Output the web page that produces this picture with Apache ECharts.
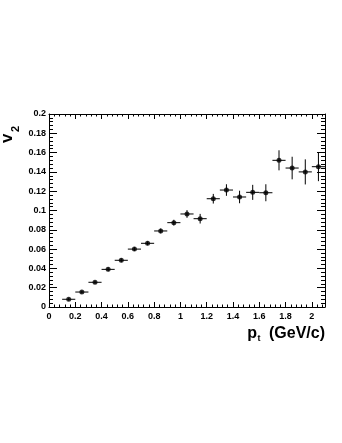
<!DOCTYPE html>
<html>
<head>
<meta charset="utf-8">
<script src="https://cdn.jsdelivr.net/npm/echarts@6/dist/echarts.min.js"></script>
<style>
  html, body { margin: 0; padding: 0; background: #fff; }
  #chart { width: 342px; height: 443px; }
</style>
</head>
<body>
<div id="chart"></div>
<script>
// pt bin centres (GeV/c), half bin width 0.05
var ptBins = [0.15, 0.25, 0.35, 0.45, 0.55, 0.65, 0.75, 0.85, 0.95, 1.05,
              1.15, 1.25, 1.35, 1.45, 1.55, 1.65, 1.75, 1.85, 1.95, 2.05];
var ptHalfWidth = [0.05, 0.05, 0.05, 0.05, 0.05, 0.05, 0.05, 0.05, 0.05, 0.05,
                   0.05, 0.05, 0.05, 0.05, 0.05, 0.05, 0.05, 0.05, 0.05, 0.05];
var v2 = [0.008, 0.0155, 0.0256, 0.039, 0.0484, 0.060, 0.066, 0.0788, 0.0874, 0.0964,
          0.0915, 0.1122, 0.1212, 0.114, 0.1188, 0.1184, 0.152, 0.144, 0.140, 0.1454];
var v2Err = [0.0015, 0.0015, 0.0015, 0.002, 0.002, 0.002, 0.002, 0.0025, 0.003, 0.004,
             0.005, 0.005, 0.006, 0.0065, 0.0078, 0.0088, 0.0104, 0.0117, 0.013, 0.015];

var font = 'Liberation Sans, Arial, sans-serif';

var pts = [];
var bars = [];
for (var i = 0; i < ptBins.length; i++) {
  pts.push([ptBins[i], v2[i]]);
  bars.push([ptBins[i], v2[i], ptHalfWidth[i], v2Err[i]]);
}

function errBars(params, api) {
  var x = api.value(0), y = api.value(1), ex = api.value(2), ey = api.value(3);
  var l = api.coord([x - ex, y]), r = api.coord([x + ex, y]);
  var t = api.coord([x, y + ey]), b = api.coord([x, y - ey]);
  var st = { stroke: '#000', lineWidth: 1 };
  return {
    type: 'group',
    children: [
      { type: 'line', shape: { x1: l[0], y1: l[1], x2: r[0], y2: r[1] }, style: st },
      { type: 'line', shape: { x1: t[0], y1: t[1], x2: b[0], y2: b[1] }, style: st }
    ]
  };
}

var myChart = echarts.init(document.getElementById('chart'));

var lab = { color: '#000', fontSize: 9, fontWeight: 'bold', fontFamily: font };
var line = { show: true, onZero: false, lineStyle: { color: '#000', width: 1 } };

function xAx(pos, showLab) {
  return {
    type: 'value', min: 0, max: 2.1, interval: 0.2, position: pos,
    axisLine: line,
    axisTick: { show: true, inside: true, length: 5, lineStyle: { color: '#000' } },
    minorTick: { show: true, splitNumber: 5, length: 2.5, lineStyle: { color: '#000' } },
    axisLabel: showLab ? Object.assign({ margin: 5, showMaxLabel: false }, lab) : { show: false },
    splitLine: { show: false }
  };
}
function yAx(pos, showLab) {
  return {
    type: 'value', min: 0, max: 0.2, interval: 0.02, position: pos,
    axisLine: line,
    axisTick: { show: true, inside: true, length: 8, lineStyle: { color: '#000' } },
    minorTick: { show: true, splitNumber: 5, length: 4, lineStyle: { color: '#000' } },
    axisLabel: showLab ? Object.assign({ margin: 3 }, lab) : { show: false },
    splitLine: { show: false }
  };
}

option = {
  backgroundColor: '#fff',
  animation: false,
  grid: { left: 49, right: 17, top: 114, bottom: 136 },
  xAxis: [xAx('bottom', true), xAx('top', false)],
  yAxis: [yAx('left', true), yAx('right', false)],
  graphic: [
    // y title, rotated
    { type: 'text', x: 16, y: 143, rotation: Math.PI / 2,
      style: { text: 'v', font: 'bold 17px ' + font, fill: '#000', textVerticalAlign: 'bottom' } },
    { type: 'text', x: 21, y: 132, rotation: Math.PI / 2,
      style: { text: '2', font: 'bold 11px ' + font, fill: '#000', textVerticalAlign: 'bottom' } },
    // x title
    { type: 'text', x: 257, y: 342, style: { text: 'p', font: 'bold 16px ' + font, fill: '#000', textAlign: 'right', textVerticalAlign: 'bottom' } },
    { type: 'text', x: 257.5, y: 343, style: { text: 't', font: 'bold 9px ' + font, fill: '#000', textVerticalAlign: 'bottom' } },
    { type: 'text', x: 325, y: 342, style: { text: '(GeV/c)', font: 'bold 16px ' + font, fill: '#000', textAlign: 'right', textVerticalAlign: 'bottom' } }
  ],
  series: [{
    type: 'custom',
    renderItem: errBars,
    data: bars,
    z: 2
  }, {
    type: 'scatter',
    symbol: 'circle',
    symbolSize: 5,
    itemStyle: { color: '#000' },
    data: pts,
    z: 3
  }]
};
myChart.setOption(option);
</script>
</body>
</html>
